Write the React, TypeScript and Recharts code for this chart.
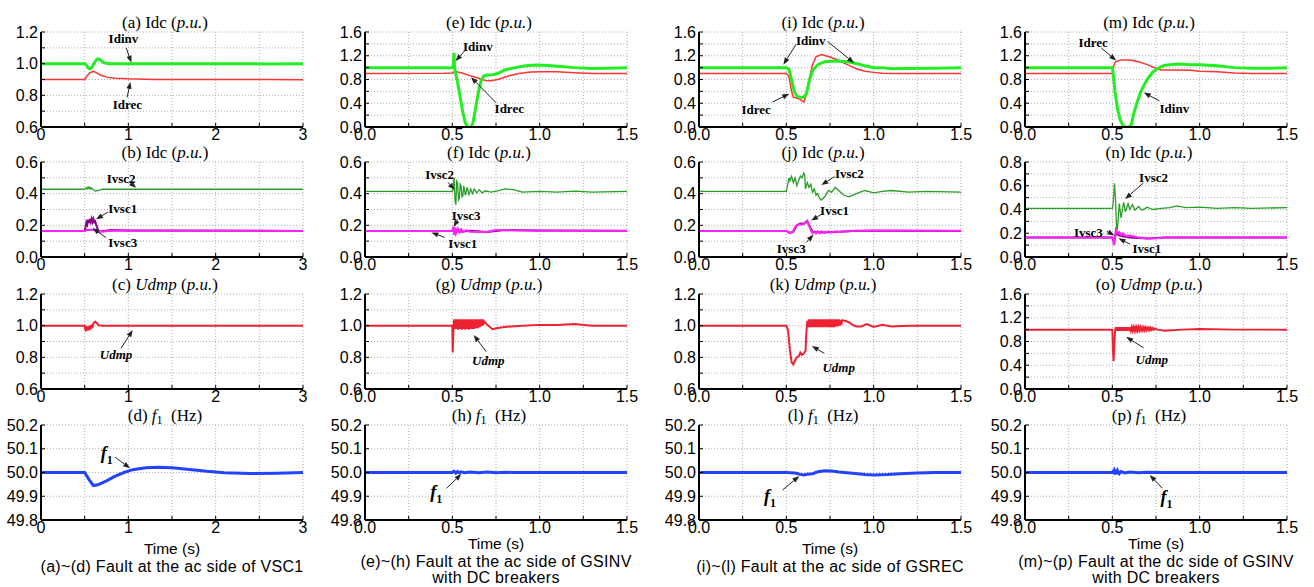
import React from 'react';
import {
  LineChart,
  Line,
  XAxis,
  YAxis,
  CartesianGrid,
  ReferenceLine,
  ReferenceDot,
} from 'recharts';

type Pt = [number, number];

// ---- (a) Fault at the ac side of VSC1, Idc
const aIdinv: Pt[] = [[0, 1.0], [0.5, 1.0], [0.52, 0.99], [0.54, 0.972], [0.56, 0.967], [0.58, 0.975], [0.61, 1.005], [0.64, 1.027], [0.66, 1.03], [0.69, 1.02], [0.72, 1.006], [0.78, 1.0], [1.5, 1.0], [2.2, 1.0], [2.6, 0.998], [3, 1.0]];
const aIdrec: Pt[] = [[0, 0.9], [0.5, 0.9], [0.53, 0.925], [0.56, 0.943], [0.6, 0.952], [0.64, 0.942], [0.68, 0.928], [0.75, 0.915], [0.85, 0.908], [1.0, 0.904], [1.3, 0.9], [2.6, 0.9], [3, 0.898]];

// ---- (e) Idc
const eIdinv: Pt[] = [[0, 1.0], [0.5, 1.0], [0.505, 1.02], [0.51, 1.25], [0.512, 1.05], [0.515, 0.96], [0.53, 0.75], [0.545, 0.5], [0.56, 0.25], [0.575, 0.06], [0.59, 0.0], [0.61, 0.0], [0.62, 0.1], [0.635, 0.35], [0.65, 0.6], [0.665, 0.78], [0.68, 0.86], [0.7, 0.875], [0.73, 0.88], [0.76, 0.9], [0.8, 0.96], [0.86, 1.0], [0.92, 1.03], [0.98, 1.045], [1.05, 1.035], [1.12, 1.02], [1.2, 1.0], [1.3, 0.985], [1.4, 0.99], [1.5, 1.0]];
const eIdrec: Pt[] = [[0, 0.9], [0.45, 0.905], [0.5, 0.91], [0.52, 0.935], [0.56, 0.905], [0.6, 0.865], [0.65, 0.82], [0.69, 0.785], [0.72, 0.778], [0.76, 0.8], [0.82, 0.86], [0.88, 0.9], [0.95, 0.925], [1.0, 0.93], [1.1, 0.93], [1.2, 0.915], [1.3, 0.9], [1.5, 0.9]];

// ---- (i) Idc
const iIdinv: Pt[] = [[0, 1.0], [0.5, 1.0], [0.515, 0.97], [0.53, 0.8], [0.545, 0.6], [0.56, 0.52], [0.58, 0.5], [0.6, 0.5], [0.615, 0.56], [0.63, 0.76], [0.65, 0.95], [0.68, 1.05], [0.72, 1.1], [0.78, 1.11], [0.85, 1.1], [0.9, 1.07], [0.95, 1.03], [1.0, 1.0], [1.05, 1.0], [1.1, 0.98], [1.2, 0.985], [1.35, 0.99], [1.5, 1.0]];
const iIdrec: Pt[] = [[0, 0.9], [0.5, 0.9], [0.515, 0.85], [0.53, 0.6], [0.54, 0.5], [0.56, 0.49], [0.58, 0.46], [0.6, 0.42], [0.61, 0.5], [0.63, 0.8], [0.65, 1.05], [0.67, 1.18], [0.7, 1.22], [0.75, 1.18], [0.8, 1.12], [0.85, 1.05], [0.9, 0.98], [0.95, 0.94], [1.0, 0.92], [1.05, 0.905], [1.1, 0.9], [1.5, 0.9]];

// ---- (m) Idc
const mIdinv: Pt[] = [[0, 1.0], [0.5, 1.0], [0.505, 0.9], [0.515, 0.6], [0.53, 0.3], [0.545, 0.12], [0.56, 0.03], [0.575, 0.0], [0.6, 0.0], [0.61, 0.05], [0.62, 0.2], [0.64, 0.4], [0.66, 0.57], [0.68, 0.7], [0.7, 0.8], [0.73, 0.92], [0.76, 0.99], [0.8, 1.04], [0.88, 1.06], [0.95, 1.05], [1.0, 1.05], [1.1, 1.03], [1.2, 1.0], [1.3, 0.99], [1.4, 0.99], [1.5, 1.0]];
const mIdrec: Pt[] = [[0, 0.9], [0.5, 0.9], [0.51, 1.05], [0.52, 1.1], [0.55, 1.13], [0.6, 1.13], [0.65, 1.1], [0.7, 1.05], [0.75, 0.99], [0.78, 0.96], [0.85, 0.96], [0.95, 0.955], [1.0, 0.94], [1.1, 0.93], [1.2, 0.91], [1.3, 0.9], [1.5, 0.9]];

// ---- (b) Ivsc
const bIvsc2: Pt[] = [[0, 0.428], [0.5, 0.428], [0.52, 0.438], [0.53, 0.43], [0.54, 0.442], [0.55, 0.432], [0.56, 0.44], [0.57, 0.428], [0.58, 0.436], [0.6, 0.424], [0.62, 0.416], [0.65, 0.42], [0.7, 0.428], [1.5, 0.428], [3, 0.428]];
const bIvsc1: Pt[] = [[0, 0.165], [0.5, 0.165], [0.51, 0.19], [0.52, 0.22], [0.53, 0.205], [0.54, 0.235], [0.55, 0.215], [0.56, 0.24], [0.57, 0.22], [0.58, 0.242], [0.59, 0.222], [0.6, 0.24], [0.61, 0.22], [0.62, 0.225], [0.64, 0.19], [0.66, 0.16], [0.7, 0.163], [0.8, 0.17], [1.0, 0.168], [3, 0.165]];
const bIvsc3: Pt[] = [[0, 0.165], [0.5, 0.165], [0.52, 0.17], [0.6, 0.172], [0.65, 0.163], [0.7, 0.16], [0.8, 0.168], [1.2, 0.166], [3, 0.165]];

// ---- (f) Ivsc
const fIvsc2: Pt[] = [[0, 0.415], [0.5, 0.415], [0.505, 0.43], [0.51, 0.5], [0.515, 0.36], [0.52, 0.33], [0.525, 0.48], [0.53, 0.47], [0.535, 0.36], [0.54, 0.37], [0.545, 0.46], [0.55, 0.45], [0.555, 0.38], [0.56, 0.385], [0.565, 0.45], [0.575, 0.39], [0.585, 0.44], [0.595, 0.395], [0.605, 0.43], [0.615, 0.4], [0.625, 0.43], [0.64, 0.405], [0.655, 0.425], [0.67, 0.405], [0.69, 0.418], [0.72, 0.41], [0.76, 0.418], [0.8, 0.43], [0.85, 0.425], [0.9, 0.41], [1.0, 0.415], [1.1, 0.41], [1.2, 0.416], [1.3, 0.41], [1.5, 0.415]];
const fIvsc1: Pt[] = [[0, 0.165], [0.5, 0.165], [0.51, 0.18], [0.52, 0.15], [0.53, 0.175], [0.55, 0.16], [0.6, 0.165], [0.7, 0.158], [0.8, 0.17], [1.0, 0.168], [1.5, 0.165]];
const fIvsc3: Pt[] = [[0, 0.165], [0.5, 0.165], [0.505, 0.19], [0.51, 0.14], [0.515, 0.185], [0.52, 0.15], [0.53, 0.18], [0.54, 0.155], [0.55, 0.175], [0.56, 0.158], [0.58, 0.17], [0.6, 0.16], [0.65, 0.158], [0.7, 0.16], [0.75, 0.17], [0.8, 0.17], [0.9, 0.167], [1.0, 0.166], [1.5, 0.165]];

// ---- (j) Ivsc
const jIvsc2: Pt[] = [[0, 0.415], [0.5, 0.415], [0.51, 0.47], [0.515, 0.5], [0.52, 0.48], [0.53, 0.51], [0.54, 0.47], [0.55, 0.5], [0.56, 0.45], [0.57, 0.48], [0.58, 0.51], [0.59, 0.5], [0.6, 0.53], [0.605, 0.52], [0.61, 0.43], [0.62, 0.47], [0.63, 0.44], [0.64, 0.46], [0.65, 0.41], [0.66, 0.43], [0.67, 0.39], [0.68, 0.4], [0.69, 0.37], [0.7, 0.36], [0.72, 0.38], [0.74, 0.42], [0.76, 0.41], [0.78, 0.44], [0.8, 0.42], [0.83, 0.39], [0.86, 0.38], [0.9, 0.4], [0.95, 0.42], [1.0, 0.405], [1.05, 0.415], [1.1, 0.42], [1.2, 0.41], [1.3, 0.415], [1.5, 0.41]];
const jIvsc1: Pt[] = [[0, 0.165], [0.5, 0.165], [0.52, 0.152], [0.54, 0.16], [0.56, 0.2], [0.58, 0.212], [0.6, 0.21], [0.62, 0.228], [0.63, 0.2], [0.65, 0.16], [0.7, 0.155], [0.8, 0.16], [0.9, 0.166], [1.5, 0.165]];
const jIvsc3: Pt[] = [[0, 0.165], [0.5, 0.165], [0.52, 0.15], [0.535, 0.155], [0.55, 0.19], [0.57, 0.205], [0.59, 0.205], [0.61, 0.215], [0.62, 0.225], [0.63, 0.205], [0.64, 0.17], [0.65, 0.15], [0.66, 0.16], [0.67, 0.148], [0.68, 0.162], [0.69, 0.15], [0.7, 0.163], [0.72, 0.152], [0.74, 0.162], [0.76, 0.154], [0.78, 0.163], [0.8, 0.158], [0.9, 0.165], [1.0, 0.168], [1.5, 0.165]];

// ---- (n) Ivsc
const nIvsc2: Pt[] = [[0, 0.41], [0.5, 0.41], [0.505, 0.45], [0.512, 0.62], [0.518, 0.5], [0.525, 0.22], [0.53, 0.25], [0.54, 0.45], [0.55, 0.33], [0.565, 0.46], [0.575, 0.38], [0.59, 0.45], [0.6, 0.4], [0.615, 0.44], [0.63, 0.395], [0.65, 0.425], [0.67, 0.395], [0.7, 0.42], [0.73, 0.4], [0.78, 0.41], [0.83, 0.415], [0.87, 0.43], [0.92, 0.415], [1.0, 0.42], [1.1, 0.41], [1.2, 0.415], [1.3, 0.41], [1.5, 0.415]];
const nIvsc1: Pt[] = [[0, 0.165], [0.5, 0.165], [0.51, 0.12], [0.52, 0.2], [0.54, 0.18], [0.56, 0.175], [0.6, 0.165], [0.7, 0.155], [0.8, 0.165], [1.5, 0.165]];
const nIvsc3: Pt[] = [[0, 0.165], [0.5, 0.165], [0.505, 0.14], [0.51, 0.1], [0.515, 0.16], [0.52, 0.23], [0.53, 0.2], [0.54, 0.21], [0.55, 0.185], [0.56, 0.2], [0.58, 0.175], [0.6, 0.18], [0.65, 0.165], [0.7, 0.155], [0.75, 0.158], [0.8, 0.165], [1.5, 0.165]];

// ---- Udmp
const cUdmp: Pt[] = [[0, 1.0], [0.5, 1.0], [0.505, 0.98], [0.51, 0.975], [0.515, 0.995], [0.52, 0.97], [0.525, 0.995], [0.53, 0.968], [0.535, 0.995], [0.54, 0.97], [0.545, 0.998], [0.55, 0.972], [0.555, 1.0], [0.56, 0.975], [0.565, 1.0], [0.57, 0.978], [0.575, 1.005], [0.58, 0.982], [0.585, 1.008], [0.59, 0.988], [0.6, 1.015], [0.62, 1.025], [0.64, 1.015], [0.66, 1.002], [0.7, 1.0], [3, 1.0]];
const gUdmp: Pt[] = [[0, 1.0], [0.5, 1.0], [0.502, 0.83], [0.506, 0.96], [0.51, 1.04], [0.515, 0.98], [0.52, 1.04], [0.525, 0.98], [0.53, 1.04], [0.535, 0.975], [0.54, 1.04], [0.545, 0.98], [0.55, 1.04], [0.555, 0.975], [0.56, 1.04], [0.565, 0.98], [0.57, 1.04], [0.575, 0.975], [0.58, 1.04], [0.585, 0.98], [0.59, 1.04], [0.595, 0.975], [0.6, 1.04], [0.605, 0.98], [0.61, 1.04], [0.615, 0.98], [0.62, 1.04], [0.625, 0.98], [0.63, 1.04], [0.635, 0.985], [0.64, 1.04], [0.645, 0.985], [0.65, 1.04], [0.655, 0.99], [0.66, 1.04], [0.665, 0.995], [0.67, 1.04], [0.675, 1.0], [0.68, 1.03], [0.7, 1.005], [0.73, 0.978], [0.76, 0.985], [0.8, 0.992], [0.9, 1.0], [1.0, 1.005], [1.1, 1.005], [1.2, 1.01], [1.3, 1.0], [1.5, 1.0]];
const kUdmp: Pt[] = [[0, 1.0], [0.5, 1.0], [0.51, 0.97], [0.52, 0.85], [0.53, 0.77], [0.54, 0.755], [0.55, 0.78], [0.56, 0.8], [0.57, 0.805], [0.58, 0.83], [0.59, 0.815], [0.6, 0.825], [0.61, 0.84], [0.615, 0.96], [0.62, 1.03], [0.625, 0.99], [0.63, 1.04], [0.635, 0.99], [0.64, 1.04], [0.645, 0.99], [0.65, 1.04], [0.655, 0.99], [0.66, 1.04], [0.665, 0.99], [0.67, 1.04], [0.675, 0.99], [0.68, 1.04], [0.685, 0.99], [0.69, 1.04], [0.695, 0.99], [0.7, 1.04], [0.705, 0.99], [0.71, 1.04], [0.715, 0.99], [0.72, 1.04], [0.725, 0.99], [0.73, 1.04], [0.735, 0.99], [0.74, 1.04], [0.745, 0.99], [0.75, 1.04], [0.755, 0.99], [0.76, 1.04], [0.765, 0.99], [0.77, 1.04], [0.775, 0.99], [0.78, 1.04], [0.785, 0.995], [0.79, 1.04], [0.795, 0.995], [0.8, 1.04], [0.805, 1.0], [0.81, 1.035], [0.815, 1.005], [0.82, 1.035], [0.84, 1.03], [0.86, 1.02], [0.88, 1.005], [0.9, 0.995], [0.93, 0.995], [0.96, 1.01], [1.0, 0.992], [1.05, 1.005], [1.1, 0.995], [1.2, 1.0], [1.5, 1.0]];
const oUdmp: Pt[] = [[0, 1.0], [0.5, 1.0], [0.503, 0.7], [0.507, 0.47], [0.512, 0.8], [0.517, 1.0], [0.52, 1.04], [0.525, 0.98], [0.53, 1.04], [0.535, 0.98], [0.54, 1.04], [0.545, 0.98], [0.55, 1.04], [0.555, 0.98], [0.56, 1.04], [0.565, 0.98], [0.57, 1.04], [0.575, 0.98], [0.58, 1.04], [0.585, 0.98], [0.59, 1.04], [0.595, 0.98], [0.6, 1.04], [0.605, 0.985], [0.61, 1.04], [0.615, 0.985], [0.62, 1.04], [0.625, 0.985], [0.63, 1.04], [0.635, 0.985], [0.64, 1.04], [0.645, 0.985], [0.65, 1.04], [0.655, 0.99], [0.66, 1.04], [0.665, 0.99], [0.67, 1.035], [0.675, 0.99], [0.68, 1.035], [0.685, 0.99], [0.69, 1.035], [0.695, 0.995], [0.7, 1.03], [0.705, 0.995], [0.71, 1.03], [0.715, 0.995], [0.72, 1.03], [0.725, 1.0], [0.73, 1.025], [0.735, 1.0], [0.74, 1.02], [0.76, 1.0], [0.8, 0.98], [0.9, 1.0], [1.0, 1.01], [1.2, 1.0], [1.5, 1.0]];

// ---- f1
const dF1: Pt[] = [[0, 50.0], [0.5, 50.0], [0.55, 49.97], [0.6, 49.945], [0.65, 49.948], [0.75, 49.965], [0.85, 49.985], [0.95, 50.0], [1.05, 50.012], [1.2, 50.02], [1.35, 50.022], [1.5, 50.02], [1.7, 50.013], [1.9, 50.005], [2.1, 49.999], [2.4, 49.996], [2.7, 49.997], [3, 50.0]];
const hF1: Pt[] = [[0, 50.0], [0.5, 50.0], [0.51, 50.005], [0.52, 49.997], [0.53, 50.004], [0.54, 49.998], [0.55, 50.003], [0.57, 49.999], [0.6, 50.002], [0.65, 49.999], [0.7, 50.002], [0.75, 49.999], [0.8, 50.001], [0.85, 50.0], [1.5, 50.0]];
const lF1: Pt[] = [[0, 50.0], [0.5, 50.0], [0.55, 49.998], [0.58, 49.992], [0.6, 49.99], [0.62, 49.993], [0.65, 49.995], [0.68, 50.003], [0.72, 50.007], [0.76, 50.006], [0.8, 50.002], [0.88, 49.997], [0.95, 49.992], [1.0, 49.99], [1.08, 49.992], [1.15, 49.995], [1.25, 49.998], [1.35, 50.0], [1.5, 50.0]];
const pF1: Pt[] = [[0, 50.0], [0.5, 50.0], [0.51, 50.01], [0.515, 49.992], [0.52, 50.012], [0.525, 49.993], [0.53, 50.008], [0.54, 49.995], [0.55, 50.004], [0.57, 49.998], [0.6, 50.002], [0.65, 49.999], [0.7, 50.001], [0.8, 50.0], [1.5, 50.0]];

// ---- ticks
const xTicks3 = [0, 0.5, 1, 1.5, 2, 2.5, 3];
const xTicks15 = [0, 0.25, 0.5, 0.75, 1, 1.25, 1.5];
const yTicks0612 = [0.6, 0.7, 0.8, 0.9, 1.0, 1.1, 1.2];
const yTicks016 = [0, 0.2, 0.4, 0.6, 0.8, 1.0, 1.2, 1.4, 1.6];
const yTicks006 = [0, 0.1, 0.2, 0.3, 0.4, 0.5, 0.6];
const yTicks008 = [0, 0.1, 0.2, 0.3, 0.4, 0.5, 0.6, 0.7, 0.8];
const yTicksF = [49.8, 49.9, 50.0, 50.1, 50.2];

const captions = [
  ['(a)~(d) Fault at the ac side of VSC1'],
  ['(e)~(h) Fault at the ac side of GSINV', 'with DC breakers'],
  ['(i)~(l) Fault at the ac side of GSREC'],
  ['(m)~(p) Fault at the dc side of GSINV', 'with DC breakers'],
];

const GREEN = '#22ee22';
const RED = '#ff3333';
const DKGREEN = '#2a9d2a';
const PURPLE = '#8b008b';
const MAGENTA = '#ff22ff';
const UDMP = '#ee2233';
const BLUE = '#2244ff';

const serif = '"Liberation Serif", "Times New Roman", serif';
const sans = '"Liberation Sans", Arial, sans-serif';

const PW = 262;
const PH = 95;
const ML = 45;
const MR = 14;
const MT = 8;
const XH = 24;
const colLeft = [41, 365, 699, 1025];
const rowTop = [32, 162, 294, 425];

type Series = { data: Pt[]; color: string; width: number };
type NoteDef = { text: string; x: number; y: number; kind?: 'plain' | 'udmp' | 'f1' };
type Panel = {
  id: string;
  col: number;
  row: number;
  kind: 'idc' | 'udmp' | 'f1';
  xMax: number;
  yTicks: number[];
  yEvery: number;
  series: Series[];
  notes: NoteDef[];
  arrows: [number, number, number, number][];
};

const idc = (a: Pt[], b: Pt[]): Series[] => [
  { data: b, color: RED, width: 1.5 },
  { data: a, color: GREEN, width: 3 },
];
const ivsc = (v2: Pt[], v1: Pt[], v3: Pt[]): Series[] => [
  { data: v2, color: DKGREEN, width: 1.3 },
  { data: v1, color: PURPLE, width: 2 },
  { data: v3, color: MAGENTA, width: 2 },
];

const panels: Panel[] = [
  { id: 'a', col: 0, row: 0, kind: 'idc', xMax: 3, yTicks: yTicks0612, yEvery: 2, series: idc(aIdinv, aIdrec),
    notes: [{ text: 'Idinv', x: 0.944, y: 1.162 }, { text: 'Idrec', x: 0.99, y: 0.74 }],
    arrows: [[0.975, 1.1, 1.035, 1.006], [0.986, 0.787, 1.024, 0.885]] },
  { id: 'e', col: 1, row: 0, kind: 'idc', xMax: 1.5, yTicks: yTicks016, yEvery: 2, series: idc(eIdinv, eIdrec),
    notes: [{ text: 'Idinv', x: 0.646, y: 1.35 }, { text: 'Idrec', x: 0.826, y: 0.31 }],
    arrows: [[0.57, 1.28, 0.518, 1.11], [0.75, 0.41, 0.607, 0.84]] },
  { id: 'i', col: 2, row: 0, kind: 'idc', xMax: 1.5, yTicks: yTicks016, yEvery: 2, series: idc(iIdinv, iIdrec),
    notes: [{ text: 'Idinv', x: 0.64, y: 1.46 }, { text: 'Idrec', x: 0.327, y: 0.3 }],
    arrows: [[0.555, 1.39, 0.483, 1.05], [0.736, 1.44, 0.888, 1.08], [0.42, 0.42, 0.517, 0.56]] },
  { id: 'm', col: 3, row: 0, kind: 'idc', xMax: 1.5, yTicks: yTicks016, yEvery: 2, series: idc(mIdinv, mIdrec),
    notes: [{ text: 'Idrec', x: 0.39, y: 1.42 }, { text: 'Idinv', x: 0.855, y: 0.32 }],
    arrows: [[0.437, 1.33, 0.522, 1.12], [0.77, 0.44, 0.68, 0.58]] },
  { id: 'b', col: 0, row: 1, kind: 'idc', xMax: 3, yTicks: yTicks006, yEvery: 2, series: ivsc(bIvsc2, bIvsc1, bIvsc3),
    notes: [{ text: 'Ivsc2', x: 0.917, y: 0.498 }, { text: 'Ivsc1', x: 0.936, y: 0.309 }, { text: 'Ivsc3', x: 0.936, y: 0.092 }],
    arrows: [[1.01, 0.474, 1.09, 0.437], [0.764, 0.283, 0.63, 0.238], [0.745, 0.122, 0.59, 0.183]] },
  { id: 'f', col: 1, row: 1, kind: 'idc', xMax: 1.5, yTicks: yTicks006, yEvery: 2, series: ivsc(fIvsc2, fIvsc1, fIvsc3),
    notes: [{ text: 'Ivsc2', x: 0.427, y: 0.521 }, { text: 'Ivsc3', x: 0.579, y: 0.265 }, { text: 'Ivsc1', x: 0.56, y: 0.087 }],
    arrows: [[0.475, 0.472, 0.513, 0.424], [0.532, 0.238, 0.507, 0.19], [0.456, 0.124, 0.38, 0.155]] },
  { id: 'j', col: 2, row: 1, kind: 'idc', xMax: 1.5, yTicks: yTicks006, yEvery: 2, series: ivsc(jIvsc2, jIvsc1, jIvsc3),
    notes: [{ text: 'Ivsc2', x: 0.861, y: 0.529 }, { text: 'Ivsc1', x: 0.776, y: 0.295 }, { text: 'Ivsc3', x: 0.528, y: 0.051 }],
    arrows: [[0.776, 0.508, 0.7, 0.454], [0.709, 0.275, 0.642, 0.23], [0.614, 0.092, 0.656, 0.142]] },
  { id: 'n', col: 3, row: 1, kind: 'idc', xMax: 1.5, yTicks: yTicks008, yEvery: 2, series: ivsc(nIvsc2, nIvsc1, nIvsc3),
    notes: [{ text: 'Ivsc2', x: 0.736, y: 0.67 }, { text: 'Ivsc3', x: 0.363, y: 0.203 }, { text: 'Ivsc1', x: 0.698, y: 0.073 }],
    arrows: [[0.678, 0.624, 0.573, 0.488], [0.468, 0.217, 0.512, 0.182], [0.602, 0.108, 0.535, 0.157]] },
  { id: 'c', col: 0, row: 2, kind: 'udmp', xMax: 3, yTicks: yTicks0612, yEvery: 2, series: [{ data: cUdmp, color: UDMP, width: 2 }],
    notes: [{ text: 'Udmp', x: 0.859, y: 0.815, kind: 'udmp' }], arrows: [[0.917, 0.857, 1.05, 0.973]] },
  { id: 'g', col: 1, row: 2, kind: 'udmp', xMax: 1.5, yTicks: yTicks0612, yEvery: 2, series: [{ data: gUdmp, color: UDMP, width: 2 }],
    notes: [{ text: 'Udmp', x: 0.706, y: 0.783, kind: 'udmp' }], arrows: [[0.694, 0.836, 0.622, 0.941]] },
  { id: 'k', col: 2, row: 2, kind: 'udmp', xMax: 1.5, yTicks: yTicks0612, yEvery: 2, series: [{ data: kUdmp, color: UDMP, width: 2 }],
    notes: [{ text: 'Udmp', x: 0.8, y: 0.735, kind: 'udmp' }], arrows: [[0.718, 0.825, 0.646, 0.871]] },
  { id: 'o', col: 3, row: 2, kind: 'udmp', xMax: 1.5, yTicks: yTicks016, yEvery: 2, series: [{ data: oUdmp, color: UDMP, width: 2 }],
    notes: [{ text: 'Udmp', x: 0.726, y: 0.5, kind: 'udmp' }], arrows: [[0.679, 0.694, 0.579, 0.878]] },
  { id: 'd', col: 0, row: 3, kind: 'f1', xMax: 3, yTicks: yTicksF, yEvery: 1, series: [{ data: dF1, color: BLUE, width: 3 }],
    notes: [{ text: 'f', x: 0.752, y: 50.08, kind: 'f1' }], arrows: [[0.85, 50.064, 1.02, 50.018]] },
  { id: 'h', col: 1, row: 3, kind: 'f1', xMax: 1.5, yTicks: yTicksF, yEvery: 1, series: [{ data: hF1, color: BLUE, width: 3 }],
    notes: [{ text: 'f', x: 0.408, y: 49.913, kind: 'f1' }], arrows: [[0.468, 49.934, 0.552, 49.994]] },
  { id: 'l', col: 2, row: 3, kind: 'f1', xMax: 1.5, yTicks: yTicksF, yEvery: 1, series: [{ data: lF1, color: BLUE, width: 3 }],
    notes: [{ text: 'f', x: 0.407, y: 49.898, kind: 'f1' }], arrows: [[0.478, 49.926, 0.574, 49.985]] },
  { id: 'p', col: 3, row: 3, kind: 'f1', xMax: 1.5, yTicks: yTicksF, yEvery: 1, series: [{ data: pF1, color: BLUE, width: 3 }],
    notes: [{ text: 'f', x: 0.81, y: 49.891, kind: 'f1' }], arrows: [[0.786, 49.934, 0.714, 49.99]] },
];

const toRows = (pts: Pt[]) => pts.map(([t, v]) => ({ t, v }));

const ArrowShape = (props: any) => {
  const { x1, y1, x2, y2 } = props;
  const ang = Math.atan2(y2 - y1, x2 - x1);
  const L = 7;
  const w = 2.6;
  const bx = x2 - L * Math.cos(ang);
  const by = y2 - L * Math.sin(ang);
  const px = -Math.sin(ang) * w;
  const py = Math.cos(ang) * w;
  return (
    <g>
      <line x1={x1} y1={y1} x2={bx} y2={by} stroke="#222" strokeWidth={1} />
      <polygon points={`${x2},${y2} ${bx + px},${by + py} ${bx - px},${by - py}`} fill="#222" />
    </g>
  );
};

const noteShape = (n: NoteDef) => (props: any) => {
  const { cx, cy } = props;
  if (n.kind === 'f1') {
    return (
      <text x={cx} y={cy + 5} textAnchor="middle" fontFamily={serif} fontWeight="bold" fontSize={18} fill="#000">
        <tspan fontStyle="italic">f</tspan>
        <tspan fontSize={12} dy={5}>1</tspan>
      </text>
    );
  }
  return (
    <text x={cx} y={cy + 4.5} textAnchor="middle" fontFamily={serif} fontWeight="bold"
      fontStyle={n.kind === 'udmp' ? 'italic' : 'normal'} fontSize={13} fill="#000">
      {n.text}
    </text>
  );
};

const Title = ({ p }: { p: Panel }) => {
  let body: React.ReactNode;
  if (p.kind === 'f1') {
    body = (
      <>
        ({p.id}) <i>f</i>
        <span style={{ fontSize: 12, position: 'relative', top: 3 }}>1</span>
        {'\u00a0\u00a0(Hz)'}
      </>
    );
  } else if (p.kind === 'udmp') {
    body = (
      <>
        ({p.id}) <i>Udmp</i> (<i>p.u.</i>)
      </>
    );
  } else {
    body = (
      <>
        ({p.id}) Idc (<i>p.u.</i>)
      </>
    );
  }
  return (
    <div style={{
      position: 'absolute', left: colLeft[p.col] - 7, top: rowTop[p.row] - 18, width: PW,
      textAlign: 'center', fontFamily: serif, fontSize: 17, lineHeight: '17px', whiteSpace: 'nowrap', color: '#000',
    }}>
      {body}
    </div>
  );
};

const frameLine = { stroke: '#000', strokeWidth: 2 };

const PanelChart = ({ p }: { p: Panel }) => {
  const xTicks = p.xMax === 3 ? xTicks3 : xTicks15;
  const xFmt = (v: number, i: number) => (i % 2 === 0 ? (p.xMax === 3 ? String(v) : v.toFixed(1)) : '');
  const yFmt = (v: number, i: number) => (i % p.yEvery === 0 ? v.toFixed(1) : '');
  const yMin = p.yTicks[0];
  const yMax = p.yTicks[p.yTicks.length - 1];
  const tickStyle = { fontSize: 16, fill: '#000', fontFamily: sans };
  return (
    <div style={{ position: 'absolute', left: colLeft[p.col] - ML, top: rowTop[p.row] - MT }}>
      <LineChart width={ML + PW + MR} height={MT + PH + XH} margin={{ top: MT, right: MR, bottom: 0, left: 0 }}>
        <CartesianGrid stroke="#9a9a9a" strokeDasharray="1 2" strokeWidth={0.8} />
        <XAxis type="number" dataKey="t" domain={[0, p.xMax]} ticks={xTicks} interval={0} allowDataOverflow
          height={XH} tickSize={-4} tickMargin={6} axisLine={frameLine} tickLine={{ stroke: '#000' }}
          tick={tickStyle} tickFormatter={xFmt} />
        <XAxis xAxisId="top" orientation="top" type="number" domain={[0, p.xMax]} ticks={xTicks} interval={0}
          allowDataOverflow height={0} tickSize={-4} axisLine={frameLine} tickLine={{ stroke: '#000' }} tick={false} />
        <YAxis type="number" domain={[yMin, yMax]} ticks={p.yTicks} interval={0} allowDataOverflow
          width={ML} tickSize={-4} tickMargin={7} axisLine={frameLine} tickLine={{ stroke: '#000' }}
          tick={tickStyle} tickFormatter={yFmt} />
        <YAxis yAxisId="right" orientation="right" type="number" domain={[yMin, yMax]} ticks={p.yTicks} interval={0}
          allowDataOverflow width={0} tickSize={-4} axisLine={frameLine} tickLine={{ stroke: '#000' }} tick={false} />
        {p.series.map((s, i) => (
          <Line key={i} data={toRows(s.data)} dataKey="v" type="linear" stroke={s.color} strokeWidth={s.width}
            dot={false} activeDot={false} isAnimationActive={false} />
        ))}
        {p.arrows.map((a, i) => (
          <ReferenceLine key={'a' + i} segment={[{ x: a[0], y: a[1] }, { x: a[2], y: a[3] }]} shape={ArrowShape} />
        ))}
        {p.notes.map((n, i) => (
          <ReferenceDot key={'n' + i} x={n.x} y={n.y} r={0} shape={noteShape(n)} />
        ))}
      </LineChart>
    </div>
  );
};

export default function App() {
  return (
    <div style={{ position: 'absolute', left: 0, top: 0, width: 1314, height: 587, background: '#fff', overflow: 'hidden' }}>
      {panels.map((p) => (
        <React.Fragment key={p.id}>
          <PanelChart p={p} />
          <Title p={p} />
        </React.Fragment>
      ))}
      {captions.map((lines, c) => {
        const cx = colLeft[c] + PW / 2;
        const two = lines.length > 1;
        return (
          <React.Fragment key={c}>
            <div style={{ position: 'absolute', left: cx - 100, width: 200, top: (two ? 544 : 549) - 8, textAlign: 'center',
              fontFamily: sans, fontSize: 15.5, lineHeight: '16px' }}>Time (s)</div>
            <div style={{ position: 'absolute', left: cx - 200, width: 400, top: (two ? 562 : 567) - 8, textAlign: 'center',
              fontFamily: sans, fontSize: 16, letterSpacing: 0.3, lineHeight: '16px' }}>
              {lines.map((l, i) => <div key={i}>{l}</div>)}
            </div>
          </React.Fragment>
        );
      })}
    </div>
  );
}
